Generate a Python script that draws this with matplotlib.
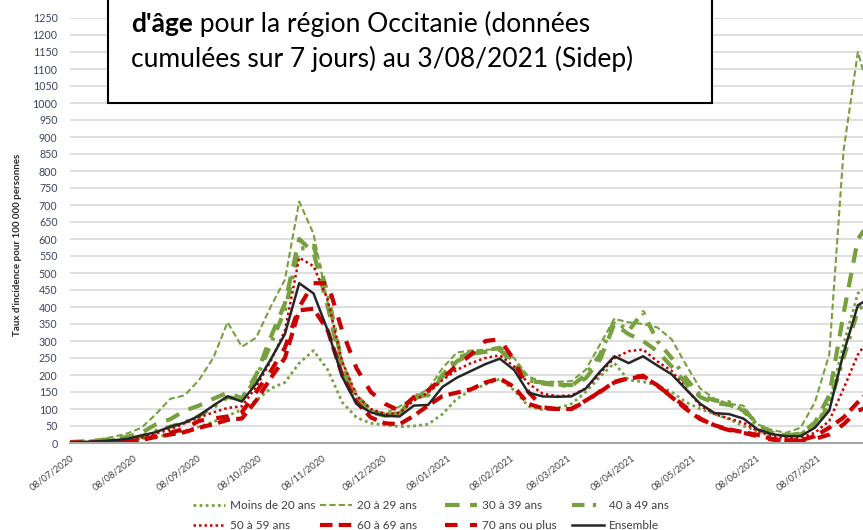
import numpy as np
import pandas as pd
import matplotlib
matplotlib.use('Agg')
import matplotlib.pyplot as plt
import matplotlib.transforms as mtransforms
from matplotlib.patches import Rectangle

plt.rcParams['font.family'] = ['Lato', 'DejaVu Sans']

# donnees hebdomadaires (taux pour 100 000)
start = '2020-07-08'
dates = pd.date_range(start, periods=57, freq='7D')

moins20 = [1, 2, 4, 6, 8, 12, 18, 26, 36, 48, 62, 80, 98, 125, 160, 178, 235, 272, 215, 120,
           75, 58, 53, 48, 50, 55, 85, 130, 155, 172, 188, 155, 108, 98, 102, 115, 150, 195, 235, 185,
           180, 170, 150, 120, 100, 85, 70, 50, 35, 25, 22, 28, 55, 120, 290, 440, 470]
a20_29 = [2, 5, 10, 18, 28, 45, 85, 130, 140, 185, 250, 355, 283, 310, 400, 480, 710, 615, 410, 240,
          125, 97, 88, 107, 135, 158, 220, 266, 272, 274, 276, 250, 195, 180, 180, 182, 215, 290, 365, 355,
          350, 340, 305, 230, 160, 130, 115, 110, 55, 38, 30, 45, 120, 260, 860, 1150, 1000]
a30_39 = [3, 5, 8, 12, 18, 30, 55, 70, 95, 110, 130, 148, 132, 200, 310, 410, 600, 560, 400, 215,
          135, 90, 80, 85, 140, 140, 195, 240, 262, 268, 275, 230, 182, 178, 172, 170, 190, 245, 350, 320,
          300, 270, 225, 175, 135, 118, 112, 100, 55, 30, 22, 28, 60, 140, 380, 600, 660]
a40_49 = [2, 3, 5, 8, 12, 20, 35, 48, 60, 80, 105, 135, 128, 190, 290, 390, 570, 580, 440, 230,
          140, 95, 82, 88, 130, 145, 200, 250, 265, 272, 280, 240, 185, 175, 170, 168, 200, 260, 360, 330,
          385, 300, 250, 190, 140, 125, 120, 95, 50, 30, 22, 25, 50, 110, 250, 390, 430]
a50_59 = [1, 2, 3, 5, 8, 15, 28, 40, 58, 75, 90, 103, 108, 165, 240, 330, 545, 520, 420, 240,
          140, 100, 85, 88, 125, 148, 185, 215, 235, 250, 258, 225, 175, 145, 138, 140, 160, 205, 250, 270,
          275, 240, 212, 160, 110, 85, 72, 60, 35, 20, 14, 15, 30, 65, 160, 260, 320]
a60_69 = [1, 1, 2, 3, 5, 9, 18, 25, 32, 45, 55, 68, 72, 125, 190, 250, 390, 395, 330, 200,
          120, 75, 58, 55, 80, 110, 138, 148, 158, 178, 190, 165, 115, 102, 100, 100, 125, 150, 180, 190,
          195, 170, 135, 100, 70, 52, 40, 32, 24, 12, 8, 8, 20, 45, 75, 120, 160]
a70plus = [1, 1, 2, 3, 5, 10, 20, 30, 42, 65, 72, 78, 90, 150, 210, 280, 400, 470, 470, 330,
           220, 150, 115, 95, 135, 155, 190, 228, 260, 300, 305, 245, 150, 105, 100, 100, 122, 152, 178, 192,
           198, 168, 138, 105, 72, 50, 38, 30, 20, 10, 6, 6, 12, 25, 55, 95, 110]
ensemble = [2, 3, 5, 8, 12, 22, 32, 48, 60, 80, 110, 137, 122, 175, 245, 320, 470, 440, 330, 195,
            115, 90, 80, 78, 110, 112, 165, 192, 212, 232, 248, 215, 148, 137, 136, 137, 160, 210, 255, 235,
            255, 228, 202, 158, 115, 88, 85, 72, 40, 26, 20, 20, 45, 95, 265, 405, 430]

tick_labels = ['08/07/2020', '08/08/2020', '08/09/2020', '08/10/2020', '08/11/2020', '08/12/2020',
               '08/01/2021', '08/02/2021', '08/03/2021', '08/04/2021', '08/05/2021', '08/06/2021',
               '08/07/2021']

vert = '#77a03e'
rouge = '#cc0000'

fig = plt.figure(figsize=(8.63, 5.30), dpi=100)
ax = fig.add_axes([70/863, 87/530, 793/863, 425/530])

l_m20, = ax.plot(dates, moins20, color=vert, lw=2, ls=(0, (1, 1.2)), label='Moins de 20 ans')
l_20, = ax.plot(dates, a20_29, color=vert, lw=1.5, ls=(0, (3, 1.5)), label='20 à 29 ans')
l_30, = ax.plot(dates, a30_39, color=vert, lw=3, ls=(0, (3.5, 2.5)), label='30 à 39 ans')
l_40, = ax.plot(dates, a40_49, color=vert, lw=3, ls=(0, (3, 2, 0.8, 2)), label='40 à 49 ans')
l_50, = ax.plot(dates, a50_59, color=rouge, lw=1.8, ls=(0, (1, 1.2)), label='50 à 59 ans')
l_60, = ax.plot(dates, a60_69, color=rouge, lw=3, ls=(0, (3, 1.5)), label='60 à 69 ans')
l_70, = ax.plot(dates, a70plus, color=rouge, lw=3, ls=(0, (3, 3)), label='70 ans ou plus')
l_ens, = ax.plot(dates, ensemble, color='#262626', lw=1.8, label='Ensemble')

t0 = pd.Timestamp(start)
ax.set_xlim(t0, t0 + pd.Timedelta(days=387.5))
ax.set_ylim(0, 1250)
ax.set_yticks(np.arange(0, 1251, 50))
ax.tick_params(axis='y', length=0, pad=9, labelsize=7.7, labelcolor='#3d4463')
ax.set_xticks(pd.to_datetime(tick_labels, format='%d/%m/%Y'))
ax.set_xticklabels(tick_labels, rotation=37, ha='right', va='center', rotation_mode='anchor',
                   fontsize=6.8, color='#404040')
ax.tick_params(axis='x', length=0, pad=10)
shift = mtransforms.ScaledTranslation(3/100, 0, fig.dpi_scale_trans)
for lab in ax.get_xticklabels():
    lab.set_transform(lab.get_transform() + shift)
ax.grid(axis='y', color='#d9d9d9', lw=1.2)
ax.set_axisbelow(True)
for s in ['top', 'right', 'left']:
    ax.spines[s].set_visible(False)
ax.spines['bottom'].set_color('#a6a6a6')
ax.spines['bottom'].set_linewidth(1.5)

fig.text(18/863, (530-245)/530, "Taux d'incidence pour 100 000 personnes", rotation=90,
         ha='center', va='center', fontsize=7, fontweight='bold', color='#262626')

# legende : une colonne par paire, positions comme Excel
colonnes = [(l_m20, l_50), (l_20, l_60), (l_30, l_70), (l_40, l_ens)]
x_col = [193, 320, 445, 572]
for (h1, h2), xc in zip(colonnes, x_col):
    fig.legend(handles=[h1, h2], labels=[h1.get_label(), h2.get_label()], loc='center left',
               bbox_to_anchor=(xc/863, 14.5/530), frameon=False, fontsize=8.5, handlelength=2.7,
               handletextpad=0.4, labelspacing=0.75, borderpad=0, borderaxespad=0,
               labelcolor='#404040')

# encadre du titre (coupe en haut)
fig.patches.append(Rectangle((108/863, 1-103/530), 604/863, 0.3, transform=fig.transFigure,
                             facecolor='white', edgecolor='black', lw=1.5, zorder=5))
t1 = fig.text(131/863, 1-32/530, "d'âge", fontsize=19, fontweight='bold', va='baseline', zorder=6)
fig.canvas.draw()
bb = t1.get_window_extent()
x1 = fig.transFigure.inverted().transform((bb.x1, bb.y0))[0]
fig.text(x1, 1-32/530, " pour la région Occitanie (données", fontsize=19, va='baseline', zorder=6)
fig.text(131/863, 1-67/530, "cumulées sur 7 jours) au 3/08/2021 (Sidep)", fontsize=19,
         va='baseline', zorder=6)

fig.savefig('out.png', dpi=100)
